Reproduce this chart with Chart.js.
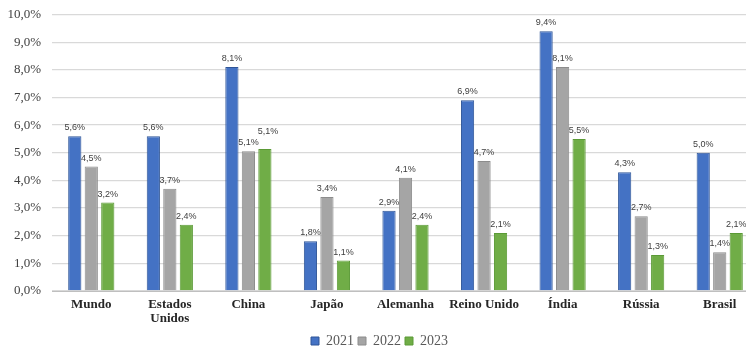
<!DOCTYPE html>
<html>
<head>
<meta charset="utf-8">
<script src="https://cdn.jsdelivr.net/npm/chart.js@4.4.1/dist/chart.umd.min.js"></script>
<style>
    html, body { margin: 0; padding: 0; background: #fff; overflow: hidden; }
    #wrap { width: 762px; height: 346px; }
</style>
</head>
<body>
<div id="wrap"><canvas id="chart_growth"></canvas></div>
<script>
var paises = ['Mundo', ['Estados', 'Unidos'], 'China', 'Japão', 'Alemanha', 'Reino Unido', 'Índia', 'Rússia', 'Brasil']
var anos = ['2021', '2022', '2023']
var valores_2021 = [5.6, 5.6, 8.1, 1.8, 2.9, 6.9, 9.4, 4.3, 5.0]
var valores_2022 = [4.5, 3.7, 5.06, 3.4, 4.1, 4.7, 8.1, 2.7, 1.4]
var valores_2023 = [3.2, 2.4, 5.14, 1.1, 2.4, 2.1, 5.5, 1.3, 2.1]

function fmt_pct(v) {
    return v.toFixed(1).replace('.', ',') + '%'
}

// rótulos em cima das barras (sobe o rótulo se encostar no anterior)
var bar_labels = {
    id: 'bar_labels',
    afterDatasetsDraw: function (chart) {
        var ctx = chart.ctx
        ctx.save()
        ctx.font = '9px "Liberation Sans", Arial, sans-serif'
        ctx.fillStyle = '#404040'
        ctx.textAlign = 'center'
        ctx.textBaseline = 'bottom'
        var n = chart.data.labels.length
        for (var j = 0; j < n; j++) {
            var prev = null
            chart.data.datasets.forEach(function (ds, i) {
                var bar = chart.getDatasetMeta(i).data[j]
                var txt = fmt_pct(ds.data[j])
                var w = ctx.measureText(txt).width
                var x = bar.x
                var y = bar.y - 4
                if (prev && x - w / 2 < prev.right && Math.abs(y - prev.y) < 10) {
                    y = prev.y - 11
                    x += 3
                }
                ctx.fillText(txt, x, y)
                prev = { right: x + w / 2, y: y }
            })
        }
        ctx.restore()
    }
}

var chart_growth = new Chart(document.getElementById('chart_growth'), {
    type: 'bar',
    data: {
        labels: paises,
        datasets: [
            {
                label: anos[0],
                data: valores_2021,
                backgroundColor: '#4472C4',
                borderColor: '#2F5597',
                borderWidth: 1
            },
            {
                label: anos[1],
                data: valores_2022,
                backgroundColor: '#A5A5A5',
                borderColor: '#8C8C8C',
                borderWidth: 1
            },
            {
                label: anos[2],
                data: valores_2023,
                backgroundColor: '#70AD47',
                borderColor: '#5B9A36',
                borderWidth: 1
            }
        ]
    },
    options: {
        responsive: true,
        maintainAspectRatio: false,
        animation: false,
        categoryPercentage: 0.63,
        barPercentage: 0.8,
        layout: {
            padding: { top: 0, right: 3, left: 0, bottom: -12 }
        },
        scales: {
            x: {
                afterFit: function (scale) {
                    scale.height = 39
                },
                grid: { display: false, drawTicks: false },
                border: { color: '#BFBFBF', width: 1 },
                ticks: {
                    color: '#262626',
                    maxRotation: 0,
                    autoSkip: false,
                    padding: 6,
                    font: { family: '"Liberation Serif", "Times New Roman", serif', size: 13, weight: 'bold', lineHeight: 1.1 }
                }
            },
            y: {
                min: 0,
                max: 10,
                afterFit: function (scale) {
                    scale.width = 52
                },
                grid: { color: '#D9D9D9', lineWidth: 1.3, drawTicks: false },
                border: { display: false },
                ticks: {
                    stepSize: 1,
                    padding: 11,
                    color: '#404040',
                    font: { family: '"Liberation Serif", "Times New Roman", serif', size: 13, lineHeight: 0.55 },
                    callback: function (value) {
                        return fmt_pct(value)
                    }
                }
            }
        },
        plugins: {
            legend: {
                position: 'bottom',
                labels: {
                    boxWidth: 8,
                    boxHeight: 8,
                    padding: 4,
                    color: '#595959',
                    font: { family: '"Liberation Serif", "Times New Roman", serif', size: 14 }
                }
            },
            tooltip: { enabled: false }
        }
    },
    plugins: [bar_labels]
})
</script>
</body>
</html>
